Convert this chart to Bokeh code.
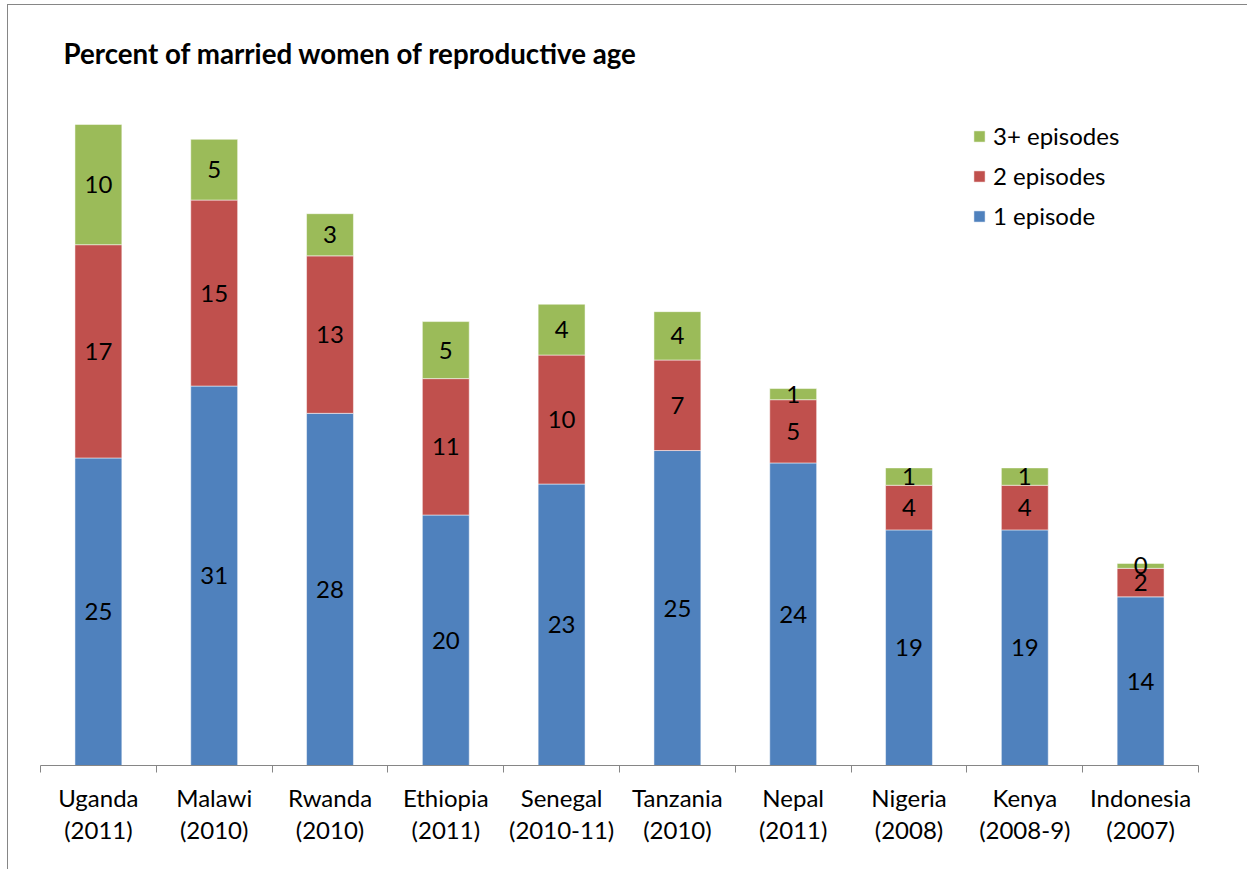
from bokeh.plotting import figure
from bokeh.models import FixedTicker, ColumnDataSource, Legend, LegendItem, LabelSet
from bokeh.core.properties import value
from bokeh.embed import file_html
from bokeh.resources import INLINE

countries = ["Uganda\n(2011)", "Malawi\n(2010)", "Rwanda\n(2010)", "Ethiopia\n(2011)",
             "Senegal\n(2010-11)", "Tanzania\n(2010)", "Nepal\n(2011)", "Nigeria\n(2008)",
             "Kenya\n(2008-9)", "Indonesia\n(2007)"]
one_episode = [24.8, 30.6, 28.4, 20.2, 22.7, 25.4, 24.4, 19.0, 19.0, 13.6]
two_episodes = [17.2, 15.0, 12.7, 11.0, 10.4, 7.3, 5.1, 3.6, 3.6, 2.3]
three_plus = [9.7, 4.9, 3.4, 4.6, 4.1, 3.9, 0.9, 1.4, 1.4, 0.4]
series_names = ["1 episode", "2 episodes", "3+ episodes"]
colors = ["#4F81BD", "#C0504D", "#9BBB59"]
title_text = "Percent of married women of reproductive age"

FONT = "Lato"
n = len(countries)
xs = [i + 0.5 for i in range(n)]

p = figure(width=1240, height=865, x_range=(0, n), y_range=(0, 55),
           output_backend="svg", toolbar_location=None,
           min_border_left=32, min_border_right=50, min_border_top=78, min_border_bottom=105)
p.styles = {"border-left": "1px solid #868686", "border-top": "1px solid #868686",
            "margin-left": "7px", "margin-top": "4px"}
p.outline_line_color = None
p.grid.visible = False
p.yaxis.visible = False

series = [one_episode, two_episodes, three_plus]
bottoms = [0.0] * n
renderers = []
for vals, col in zip(series, colors):
    tops = [b + v for b, v in zip(bottoms, vals)]
    src = ColumnDataSource(dict(x=xs, bottom=bottoms, top=tops,
                                mid=[(b + t) / 2 for b, t in zip(bottoms, tops)],
                                lab=["%d" % round(v) for v in vals]))
    r = p.vbar(x="x", bottom="bottom", top="top", width=0.405, source=src,
               fill_color=col, line_color="white", line_alpha=0.5, line_width=1)
    renderers.append(r)
    p.add_layout(LabelSet(x="x", y="mid", text="lab", source=src,
                          text_align="center", text_baseline="middle",
                          text_font=value(FONT), text_font_size="24px", text_color="black"))
    bottoms = tops

ax = p.xaxis[0]
ax.ticker = FixedTicker(ticks=xs, minor_ticks=list(range(n + 1)))
ax.major_label_overrides = {x: c for x, c in zip(xs, countries)}
ax.major_tick_line_color = None
ax.minor_tick_in = 0
ax.minor_tick_out = 7
ax.minor_tick_line_color = "#868686"
ax.axis_line_color = "#868686"
ax.major_label_text_font = FONT
ax.major_label_text_font_size = "24px"
ax.major_label_text_color = "black"
ax.major_label_text_line_height = 1.12
ax.major_label_standoff = 10

p.title.text = title_text
p.title.text_font = FONT
p.title.text_font_size = "27.7px"
p.title.text_font_style = "bold"
p.title.text_color = "black"
p.title.align = "left"
p.title.offset = 23
p.title.standoff = 28

legend = Legend(items=[LegendItem(label=series_names[i], renderers=[renderers[i]]) for i in (2, 1, 0)],
                location=(932, 535), padding=0, margin=0, spacing=11,
                glyph_width=14, glyph_height=14, label_height=24,
                label_text_font=FONT, label_text_font_size="24px", label_text_color="black",
                border_line_color=None, background_fill_alpha=0, label_standoff=7)
p.add_layout(legend)

open("out.html", "w").write(file_html(p, INLINE))
